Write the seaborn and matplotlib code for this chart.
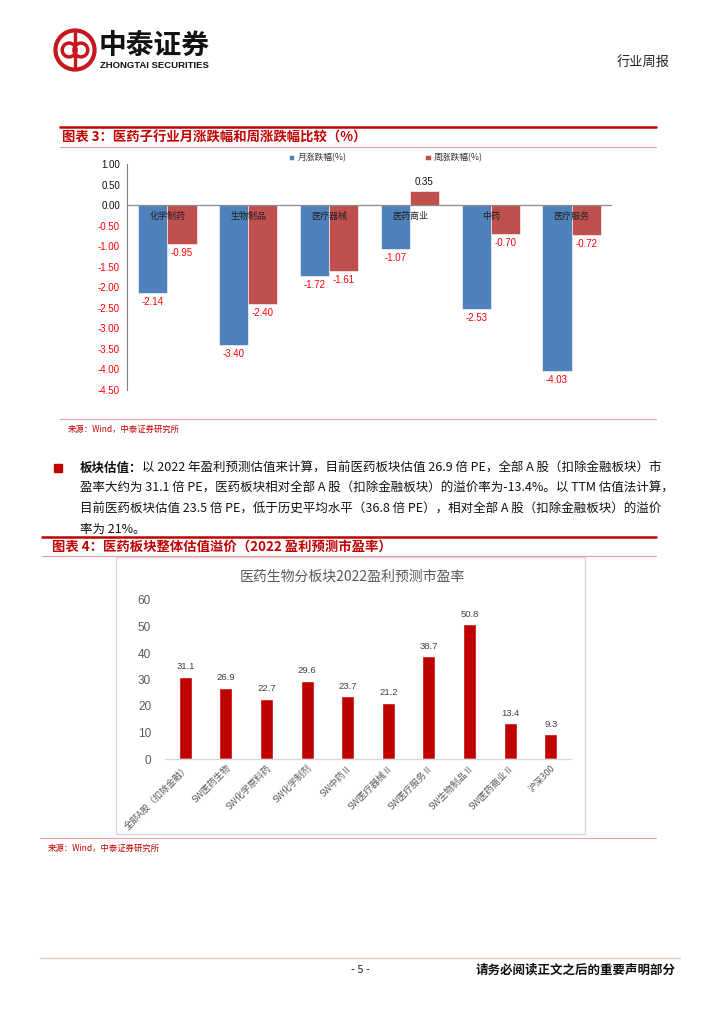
import numpy as np
import pandas as pd
import matplotlib
matplotlib.use('Agg')
import matplotlib.pyplot as plt
import seaborn as sns
from matplotlib.patches import Rectangle, Circle
from matplotlib.lines import Line2D

sns.set_theme(style='white')
plt.rcParams['font.family'] = ['Noto Sans CJK SC', 'DejaVu Sans']
plt.rcParams['axes.unicode_minus'] = False

# ---------------- data: chart 3 ----------------
sub_industries = ['化学制药', '生物制品', '医疗器械', '医药商业', '中药', '医疗服务']
monthly_chg = [-2.14, -3.40, -1.72, -1.07, -2.53, -4.03]
weekly_chg = [-0.95, -2.40, -1.61, 0.35, -0.70, -0.72]
series_names = ['月涨跌幅(%)', '周涨跌幅(%)']
chg_ticks = [1.0, 0.5, 0.0, -0.5, -1.0, -1.5, -2.0, -2.5, -3.0, -3.5, -4.0, -4.5]

# ---------------- data: chart 4 ----------------
sectors = ['全部A股（扣除金融）', 'SW医药生物', 'SW化学原料药', 'SW化学制剂', 'SW中药Ⅱ',
           'SW医疗器械Ⅱ', 'SW医疗服务Ⅱ', 'SW生物制品Ⅱ', 'SW医药商业Ⅱ', '沪深300']
pe_2022 = [31.1, 26.9, 22.7, 29.6, 23.7, 21.2, 38.7, 50.8, 13.4, 9.3]
pe_ticks = [0, 10, 20, 30, 40, 50, 60]

# ---------------- texts ----------------
chart3_title = '图表 3：医药子行业月涨跌幅和周涨跌幅比较（%）'
chart4_title = '图表 4：医药板块整体估值溢价（2022 盈利预测市盈率）'
chart4_inner_title = '医药生物分板块2022盈利预测市盈率'
source_text = '来源：Wind，中泰证券研究所'
para_bold = '板块估值：'
para_lines = [
    '以 2022 年盈利预测估值来计算，目前医药板块估值 26.9 倍 PE，全部 A 股（扣除金融板块）市',
    '盈率大约为 31.1 倍 PE，医药板块相对全部 A 股（扣除金融板块）的溢价率为-13.4%。以 TTM 估值法计算，',
    '目前医药板块估值 23.5 倍 PE，低于历史平均水平（36.8 倍 PE），相对全部 A 股（扣除金融板块）的溢价',
    '率为 21%。',
]

W, H = 724, 1024
RED = '#C00000'
fig = plt.figure(figsize=(W / 100, H / 100), dpi=100)
fig.patch.set_facecolor('white')


def fx(x):
    return x / W


def fy(y):
    return 1 - y / H


def rect(x0, y0, x1, y1):
    return [fx(x0), fy(y1), (x1 - x0) / W, (y1 - y0) / H]


def hline(y, x0, x1, color, lw):
    fig.add_artist(Line2D([fx(x0), fx(x1)], [fy(y), fy(y)], color=color, lw=lw,
                          transform=fig.transFigure))


# ---------------- header ----------------
axl = fig.add_axes(rect(53, 28, 97, 72))
axl.set_xlim(-1.05, 1.05)
axl.set_ylim(-1.05, 1.05)
axl.set_aspect('equal')
axl.axis('off')
axl.add_patch(Circle((0, 0), 1.0, color='#C8161D'))
axl.add_patch(Circle((0, 0), 0.8, color='white'))
axl.add_patch(Circle((-0.28, 0), 0.33, fill=False, ec='#C8161D', lw=2.5))
axl.add_patch(Circle((0.28, 0), 0.33, fill=False, ec='#C8161D', lw=2.5))
axl.plot([0, 0], [-0.8, 0.8], color='#C8161D', lw=2.5)

fig.text(fx(99), fy(46), '中泰证券', fontsize=20, weight='bold', ha='left', va='center', color='#111111')
fig.text(fx(100), fy(65), 'ZHONGTAI SECURITIES', fontsize=6.8, weight='bold', ha='left', va='center',
         family=['Liberation Sans', 'DejaVu Sans'], color='#111111')
fig.text(fx(670), fy(62), '行业周报', fontsize=9.5, ha='right', va='center', color='#222222')

# ---------------- chart 3 frame ----------------
hline(127, 60, 656, RED, 1.8)
fig.text(fx(62), fy(138), chart3_title, fontsize=9.6, weight='bold', color=RED, ha='left', va='center')
hline(147, 60, 656, '#EE9A9A', 0.8)

ax1 = fig.add_axes(rect(127, 164, 612, 390))
df1 = pd.DataFrame({
    'cat': sub_industries * 2,
    'series': [series_names[0]] * len(sub_industries) + [series_names[1]] * len(sub_industries),
    'val': monthly_chg + weekly_chg,
})
sns.barplot(data=df1, x='cat', y='val', hue='series', palette=['#4F81BD', '#C0504D'],
            width=0.72, saturation=1, errorbar=None, ax=ax1, edgecolor='white', linewidth=0.4)
ax1.set_ylim(-4.5, 1.0)
ax1.set_xlim(-0.5, 5.5)
ax1.set_yticks(chg_ticks)
ax1.set_yticklabels(['%.2f' % t for t in chg_ticks], family=['Liberation Sans', 'DejaVu Sans'], fontsize=7)
for lab, t in zip(ax1.get_yticklabels(), chg_ticks):
    lab.set_color('#FF0000' if t < 0 else '#111111')
ax1.tick_params(axis='y', length=0, pad=5)
ax1.set_xticks([])
ax1.set_xlabel('')
ax1.set_ylabel('')
for s in ['top', 'right', 'bottom']:
    ax1.spines[s].set_visible(False)
ax1.spines['left'].set_color('#808080')
ax1.spines['left'].set_linewidth(0.8)
ax1.axhline(0, color='#8C8C8C', lw=0.9, zorder=3)
ax1.set_facecolor('white')

for cont in ax1.containers:
    texts = ax1.bar_label(cont, fmt='%.2f', padding=3, fontsize=7,
                          family=['Liberation Sans', 'DejaVu Sans'])
    for t in texts:
        v = float(t.get_text())
        t.set_color('#FF0000' if v < 0 else '#111111')

for i, name in enumerate(sub_industries):
    ax1.text(i, -0.16, name, ha='center', va='top', fontsize=6.5, color='#222222', zorder=6)

handles, labels = ax1.get_legend_handles_labels()
ax1.legend(handles, labels, loc='center', bbox_to_anchor=(fx(386), fy(158)), bbox_transform=fig.transFigure,
           ncol=2, frameon=False, fontsize=6.3, handlelength=0.6, handleheight=0.6, handletextpad=0.4,
           columnspacing=9, labelcolor='#333333')

hline(419, 60, 656, '#F0A0A0', 0.8)
fig.text(fx(68), fy(429), source_text, fontsize=6, color=RED, ha='left', va='center')

# ---------------- paragraph ----------------
fig.add_artist(Rectangle((fx(54), fy(472)), 8 / W, 8 / H, transform=fig.transFigure, color=RED))
renderer = fig.canvas.get_renderer()
base_fs = 9.0
tb = fig.text(fx(80), fy(468), para_bold, fontsize=base_fs, weight='bold', ha='left', va='center', color='#111111')
t1 = fig.text(fx(140), fy(468), para_lines[0], fontsize=base_fs, ha='left', va='center', color='#111111')
wb = tb.get_window_extent(renderer).width
w1 = t1.get_window_extent(renderer).width
fs = base_fs * 580 / (wb + w1)
tb.set_fontsize(fs)
wb = tb.get_window_extent(renderer).width
t1.set_fontsize(fs)
t1.set_x(fx(80 + wb))
line_y = [468, 488.5, 509, 529.5]
for ly, txt in zip(line_y[1:], para_lines[1:]):
    fig.text(fx(80), fy(ly), txt, fontsize=fs, ha='left', va='center', color='#111111')

# ---------------- chart 4 frame ----------------
hline(537, 42, 656, RED, 1.8)
fig.text(fx(52), fy(547), chart4_title, fontsize=9.6, weight='bold', color=RED, ha='left', va='center')
hline(555.5, 42, 656, '#EE9A9A', 0.8)

fig.add_artist(Rectangle((fx(116), fy(834)), (585 - 116) / W, (834 - 557) / H, transform=fig.transFigure,
                         fill=False, edgecolor='#D9D9D9', lw=1))
fig.text(fx(352), fy(577), chart4_inner_title, fontsize=10, color='#595959', ha='center', va='center')

ax2 = fig.add_axes(rect(165, 600, 571, 759))
sns.barplot(x=sectors, y=pe_2022, color=RED, width=0.32, saturation=1, errorbar=None, ax=ax2)
ax2.set_ylim(0, 60)
ax2.set_xlim(-0.5, len(sectors) - 0.5)
ax2.set_yticks(pe_ticks)
ax2.set_yticklabels([str(t) for t in pe_ticks], fontsize=8.5, color='#595959',
                    family=['Liberation Sans', 'DejaVu Sans'])
ax2.tick_params(axis='both', length=0)
ax2.tick_params(axis='y', pad=10)
ax2.tick_params(axis='x', pad=3)
ax2.set_xticks(range(len(sectors)))
ax2.set_xticklabels(sectors, rotation=45, ha='right', rotation_mode='anchor', fontsize=6.6, color='#595959')
for s in ['top', 'right', 'left']:
    ax2.spines[s].set_visible(False)
ax2.spines['bottom'].set_color('#D9D9D9')
ax2.spines['bottom'].set_linewidth(1)
ax2.set_facecolor('none')
ax2.set_xlabel('')
ax2.set_ylabel('')
for cont in ax2.containers:
    ax2.bar_label(cont, fmt='%.1f', padding=4, fontsize=6.8, color='#404040',
                  family=['Liberation Sans', 'DejaVu Sans'])

hline(838, 40, 656, '#F0A0A0', 0.8)
fig.text(fx(48), fy(848), source_text, fontsize=6, color=RED, ha='left', va='center')

# ---------------- footer ----------------
hline(958, 40, 680, '#E6C9B5', 1.0)
fig.text(fx(360), fy(970), '- 5 -', fontsize=8, ha='center', va='center', color='#222222')
fig.text(fx(676), fy(970), '请务必阅读正文之后的重要声明部分', fontsize=9, weight='bold', ha='right', va='center',
         color='#111111')

fig.savefig('out.png', dpi=100, facecolor='white')
